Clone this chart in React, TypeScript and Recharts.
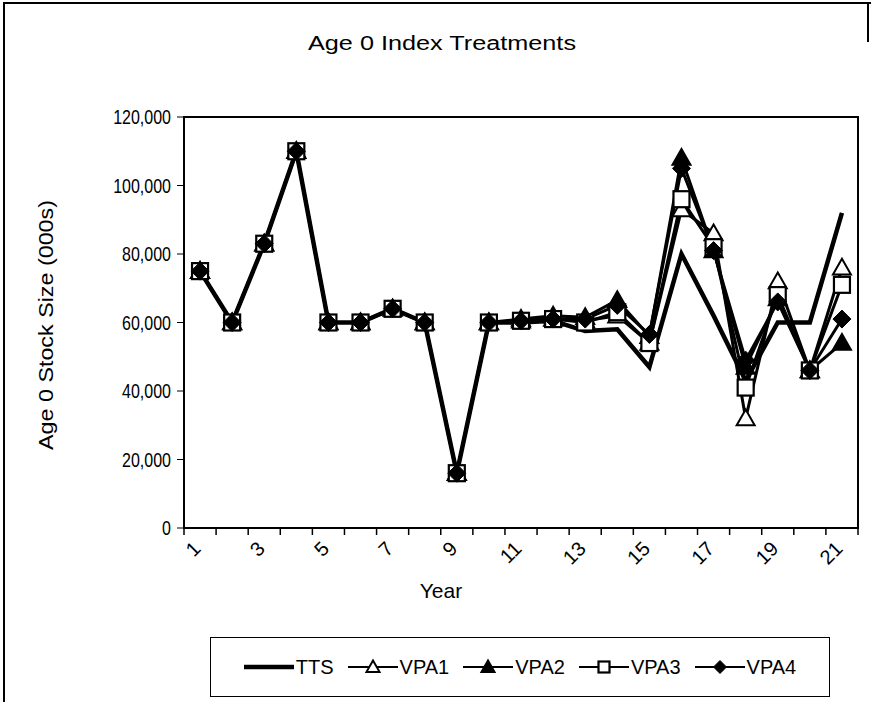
import React from 'react';
import { LineChart, Line, XAxis, YAxis, ReferenceArea } from 'recharts';

const years = [1, 2, 3, 4, 5, 6, 7, 8, 9, 10, 11, 12, 13, 14, 15, 16, 17, 18, 19, 20, 21];
const tts = [75000, 60000, 83000, 110000, 60000, 60000, 64000, 60000, 16000, 60000, 60000, 60500, 57500, 58000, 47000, 80000, 62000, 43000, 60000, 60000, 92000];
const vpa1 = [75000, 60000, 83000, 110000, 60000, 60000, 64000, 60000, 16000, 60000, 60500, 61000, 60500, 62000, 54000, 93000, 86000, 32000, 72000, 46000, 76000];
const vpa2 = [75000, 60000, 83000, 110000, 60000, 60000, 64000, 60000, 16000, 60000, 61000, 62000, 61500, 66500, 56000, 108000, 81000, 47000, 67000, 46000, 54000];
const vpa3 = [75000, 60000, 83000, 110000, 60000, 60000, 64000, 60000, 16000, 60000, 60500, 61000, 60000, 63000, 54000, 96000, 82000, 41000, 68000, 46000, 71000];
const vpa4 = [75000, 60000, 83000, 110000, 60000, 60000, 64000, 60000, 16000, 60000, 60500, 61000, 61000, 65000, 56500, 105000, 81000, 49000, 66000, 46000, 61000];
const yTicks = [0, 20000, 40000, 60000, 80000, 100000, 120000];
const legendNames = ['TTS', 'VPA1', 'VPA2', 'VPA3', 'VPA4'];

const data = years.map((y, i) => ({ year: y, tts: tts[i], vpa1: vpa1[i], vpa2: vpa2[i], vpa3: vpa3[i], vpa4: vpa4[i] }));
// boundaries get tick marks, odd years get labels
const xTicks = [...years.map((y) => y - 0.5), years[years.length - 1] + 0.5, ...years.filter((y) => y % 2 === 1)].sort((a, b) => a - b);

const FONT = 'Arial, "Liberation Sans", sans-serif';

function Marker({ kind, cx, cy, s = 18 }: { kind: string; cx: number; cy: number; s?: number }) {
  const h = s / 2;
  if (kind === 'vpa1' || kind === 'vpa2') {
    const pts = `${cx},${cy - h} ${cx + h},${cy + h * 0.75} ${cx - h},${cy + h * 0.75}`;
    return <polygon points={pts} fill={kind === 'vpa2' ? '#000' : '#fff'} stroke="#000" strokeWidth={2} />;
  }
  if (kind === 'vpa3') {
    return <rect x={cx - h + 1} y={cy - h + 1} width={s - 2} height={s - 2} fill="#fff" stroke="#000" strokeWidth={2.2} />;
  }
  const pts = `${cx},${cy - h} ${cx + h},${cy} ${cx},${cy + h} ${cx - h},${cy}`;
  return <polygon points={pts} fill="#000" stroke="#000" strokeWidth={1} />;
}

const dotFor = (kind: string) => (p: any) => <Marker key={`${kind}-${p.index}`} kind={kind} cx={p.cx} cy={p.cy} />;

function XTick(props: any) {
  const { x, y, payload } = props;
  const v = payload.value;
  if (!Number.isInteger(v)) {
    return <line x1={x} y1={y - 8} x2={x} y2={y - 1} stroke="#000" strokeWidth={1.5} />;
  }
  const tx = x - 8;
  const ty = y + 4;
  return (
    <text x={tx} y={ty} transform={`rotate(-45, ${tx}, ${ty})`} textAnchor="end" dy={14}
      fontSize={20} fontFamily={FONT} fill="#000">{v}</text>
  );
}

function YTick(props: any) {
  const { x, y, payload } = props;
  const label = payload.value.toLocaleString('en-US');
  // Excel's text here is tall and narrow
  const w = label.replace(/,/g, '').length * 0.556 * 20 * 0.8 + (label.includes(',') ? 0.278 * 20 * 0.8 : 0);
  return (
    <text x={x} y={y} dy={7} textAnchor="end" fontSize={20} fontFamily={FONT} fill="#000"
      textLength={w} lengthAdjust="spacingAndGlyphs">{label}</text>
  );
}

function LegendIcon({ kind }: { kind: string }) {
  return (
    <svg width={50} height={22} style={{ display: 'block' }}>
      <line x1={0} y1={11} x2={50} y2={11} stroke="#000" strokeWidth={kind === 'tts' ? 4.5 : 2} />
      {kind !== 'tts' && <Marker kind={kind} cx={25} cy={11} s={13} />}
    </svg>
  );
}

export default function App() {
  const keys = ['tts', 'vpa1', 'vpa2', 'vpa3', 'vpa4'];
  return (
    <div style={{ position: 'absolute', left: 0, top: 0, width: 872, height: 702, background: '#fff', fontFamily: FONT, overflow: 'hidden' }}>
      <div style={{ position: 'absolute', left: 3, top: 2, width: 866, height: 720, borderTop: '2px solid #000', borderLeft: '2px solid #000' }} />
      <div style={{ position: 'absolute', left: 867, top: 2, width: 2, height: 40, background: '#000' }} />
      <svg style={{ position: 'absolute', left: 0, top: 0 }} width={872} height={702}>
        <text x={442} y={50} textAnchor="middle" fontSize={20} fontFamily={FONT} textLength={268} lengthAdjust="spacingAndGlyphs">Age 0 Index Treatments</text>
        <text x={441} y={598} textAnchor="middle" fontSize={21} fontFamily={FONT}>Year</text>
        <text x={0} y={0} transform="translate(53, 325) rotate(-90)" textAnchor="middle" fontSize={21} fontFamily={FONT} textLength={250} lengthAdjust="spacingAndGlyphs">Age 0 Stock Size (000s)</text>
      </svg>
      <div style={{ position: 'absolute', left: 0, top: 0 }}>
        <LineChart width={872} height={702} data={data} margin={{ top: 117, right: 14, left: 0, bottom: 94 }}>
          <XAxis dataKey="year" type="number" domain={[0.5, 21.5]} ticks={xTicks} interval={0}
            tick={<XTick />} tickLine={false} axisLine={{ stroke: '#000', strokeWidth: 2 }} height={80} />
          <YAxis domain={[0, 120000]} ticks={yTicks} width={184} tick={<YTick />}
            tickLine={{ stroke: '#000' }} axisLine={{ stroke: '#000', strokeWidth: 2 }} tickSize={7} tickMargin={6} />
          <ReferenceArea x1={0.5} x2={21.5} y1={0} y2={120000} fill="none" stroke="#000" strokeWidth={2} ifOverflow="visible" />
          <Line dataKey="tts" stroke="#000" strokeWidth={4.5} dot={false} isAnimationActive={false} />
          {keys.slice(1).map((k) => (
            <Line key={k} dataKey={k} stroke="#000" strokeWidth={3} dot={dotFor(k)} isAnimationActive={false} />
          ))}
        </LineChart>
      </div>
      <div style={{ position: 'absolute', left: 210, top: 637, width: 620, height: 60, border: '1px solid #000', display: 'flex', alignItems: 'center', justifyContent: 'center', fontSize: 20, boxSizing: 'border-box' }}>
        {keys.map((k, i) => (
          <span key={k} style={{ display: 'inline-flex', alignItems: 'center', marginRight: i < 4 ? 14 : 0 }}>
            <LegendIcon kind={k} />
            <span style={{ marginLeft: 2 }}>{legendNames[i]}</span>
          </span>
        ))}
      </div>
    </div>
  );
}
